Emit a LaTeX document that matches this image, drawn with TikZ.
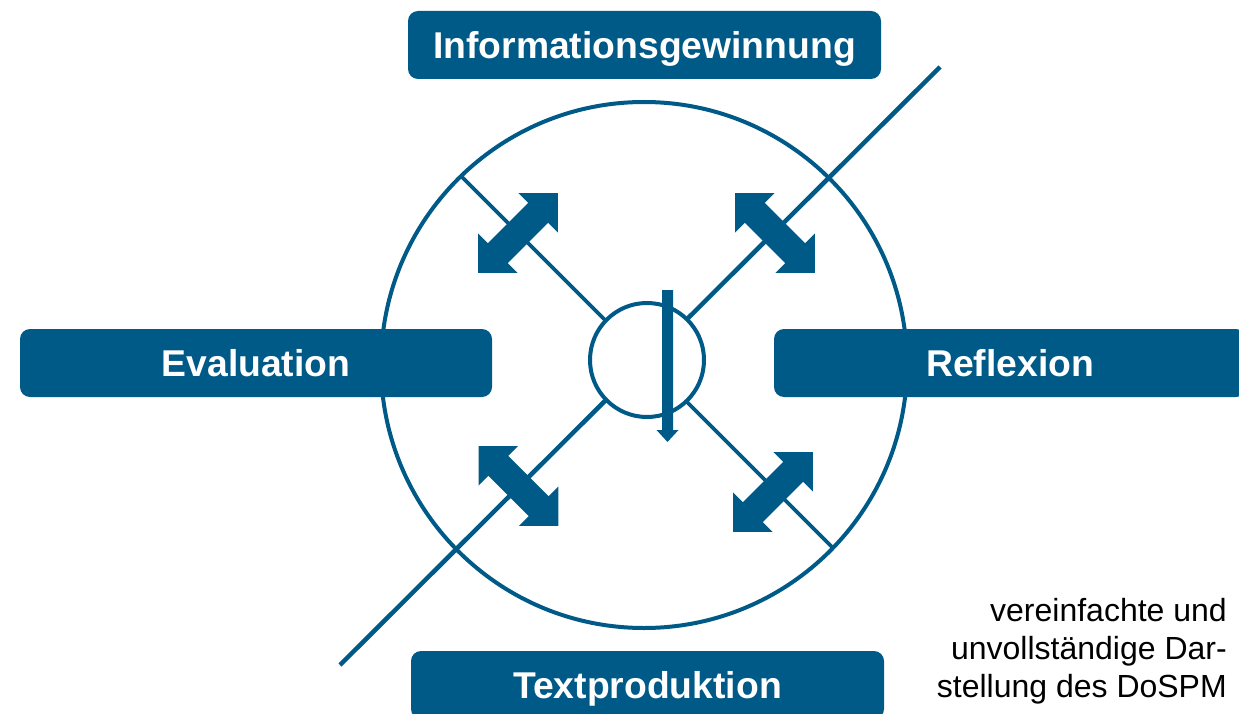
\documentclass[tikz,border=0pt]{standalone}
\usepackage{fontspec}
\setmainfont{Liberation Sans}
\definecolor{dblue}{HTML}{005A88}
\tikzset{
  lblbox/.style={fill=dblue, rounded corners=10pt, text=white, inner sep=0pt,
    minimum width=473pt, minimum height=68pt, text height=26.5pt, text depth=0pt,
    font=\fontsize{37.3}{40}\selectfont\bfseries},
  ringstyle/.style={circle, draw=dblue, inner sep=0pt},
  dblarr/.pic={\fill[dblue] (56.5,0) -- (28.5,28) -- (28.5,14) -- (-28.5,14) -- (-28.5,28)
     -- (-56.5,0) -- (-28.5,-28) -- (-28.5,-14) -- (28.5,-14) -- (28.5,-28) -- cycle;}
}
\begin{document}
\begin{tikzpicture}[x=1pt,y=-1pt]
\useasboundingbox (0,0) rectangle (1239,714);
\clip (0,0) rectangle (1239,714);
% big circle
\node[ringstyle, line width=4pt, minimum size=526pt] (big) at (644,365) {};
% diagonals
\coordinate (la) at (340,665);
\coordinate (lb) at (940,67);
\coordinate (sa) at (460,175);
\coordinate (sb) at (832,547);
\draw[dblue, line width=4.5pt] (la) -- (lb);
\draw[dblue, line width=3.6pt] (sa) -- (sb);
% small circle
\node[ringstyle, line width=4pt, fill=white, minimum size=114pt] (small) at (647,360) {};
% vertical arrow
\fill[dblue] (662,290) -- (673,290) -- (673,430) -- (678.5,430) -- (667.5,442) -- (656.5,430) -- (662,430) -- cycle;
% double arrows
\pic[rotate=45] at (518,233) {dblarr};
\pic[rotate=-45] at (775,233) {dblarr};
\pic[rotate=-45] at (518.5,486) {dblarr};
\pic[rotate=45] at (773,492) {dblarr};
% label boxes
\node[lblbox] (info) at (644.5,45) {Informationsgewinnung};
\node[lblbox, minimum width=472pt] (eval) at (256,363) {Evaluation};
\node[lblbox, minimum width=472pt] (refl) at (1010,363) {Reflexion};
\node[lblbox] (text) at (647.5,685) {Textproduktion};
% note
\node[anchor=north east, align=right, inner sep=0pt, font=\fontsize{32}{38}\selectfont] (note) at (1227,598)
  {vereinfachte und\\unvollständige Dar-\\stellung des DoSPM};
\end{tikzpicture}
\end{document}
